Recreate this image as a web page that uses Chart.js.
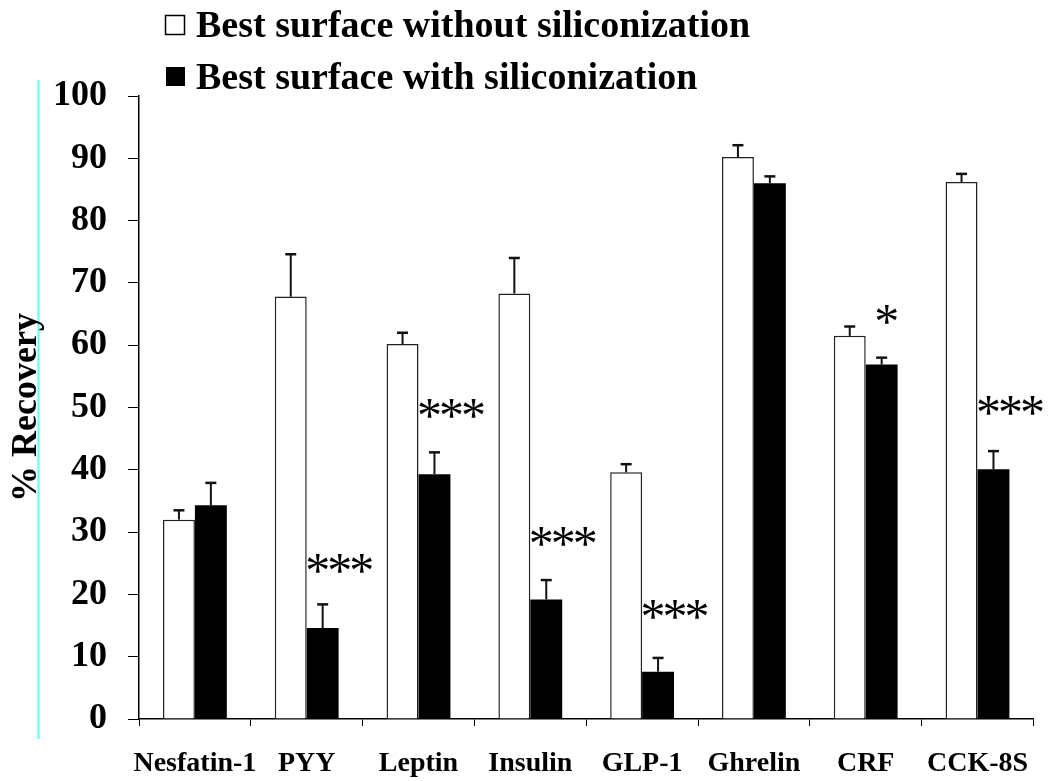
<!DOCTYPE html>
<html><head><meta charset="utf-8">
<script src="https://cdn.jsdelivr.net/npm/chart.js@4.4.0/dist/chart.umd.min.js"></script>
<style>html,body{margin:0;padding:0;background:#fff;}#wrap{width:1050px;height:781px;}</style>
</head><body><div id="wrap"><canvas id="c" width="1050" height="781"></canvas></div>
<script>
const categories = ['Nesfatin-1', 'PYY', 'Leptin', 'Insulin', 'GLP-1', 'Ghrelin', 'CRF', 'CCK-8S'];
const seriesNames = ['Best surface without siliconization', 'Best surface with siliconization'];
const withoutSilicon = [32.0, 67.8, 60.2, 68.3, 39.6, 90.2, 61.5, 86.2];
const withoutSiliconErr = [1.5, 6.8, 1.8, 5.7, 1.3, 1.9, 1.5, 1.3];
const withSilicon = [34.3, 14.6, 39.3, 19.2, 7.6, 86.0, 56.9, 40.1];
const withSiliconErr = [3.6, 3.8, 3.5, 3.1, 2.2, 1.1, 1.1, 2.9];
const significance = ['', '***', '***', '***', '***', '', '*', '***'];
const significanceLevel = [null, 25.0, 49.9, 29.4, 17.7, null, 65.0, 50.4];
const yTickMin = 0, yTickMax = 100, yTickStep = 10;
const yTitle = '% Recovery';

const FONT = '"Liberation Serif", "Times New Roman", serif';

const backgroundLine = {
  id: 'backgroundLine',
  beforeDraw(chart) {
    const ctx = chart.ctx;
    ctx.save();
    ctx.strokeStyle = '#5ff';
    ctx.lineWidth = 2;
    ctx.beginPath();
    ctx.moveTo(38.5, 80);
    ctx.lineTo(38.5, 739);
    ctx.stroke();
    ctx.restore();
  }
};

const errorBars = {
  id: 'errorBars',
  afterDatasetsDraw(chart) {
    const ctx = chart.ctx;
    const yScale = chart.scales.y;
    chart.data.datasets.forEach((ds, di) => {
      const meta = chart.getDatasetMeta(di);
      meta.data.forEach((bar, i) => {
        const top = yScale.getPixelForValue(ds.data[i] + ds.errors[i]);
        ctx.save();
        ctx.strokeStyle = '#111';
        ctx.lineWidth = 2;
        ctx.beginPath();
        ctx.moveTo(bar.x, bar.y);
        ctx.lineTo(bar.x, top);
        ctx.stroke();
        ctx.lineWidth = 2.5;
        ctx.beginPath();
        ctx.moveTo(bar.x - 5.5, top);
        ctx.lineTo(bar.x + 5.5, top);
        ctx.stroke();
        ctx.restore();
      });
    });
  }
};

const stars = {
  id: 'stars',
  afterDatasetsDraw(chart) {
    const ctx = chart.ctx;
    const xs = chart.scales.x, ys = chart.scales.y;
    const F = 50, step = 22;
    ctx.save();
    ctx.fillStyle = '#000';
    ctx.font = F + 'px ' + FONT;
    ctx.textAlign = 'center';
    ctx.textBaseline = 'alphabetic';
    significance.forEach((s, i) => {
      if (!s) return;
      const cx = xs.getPixelForValue(i) + (s.length === 1 ? 21 : 33);
      const y = ys.getPixelForValue(significanceLevel[i]) + 0.48 * F;
      const n = s.length;
      for (let k = 0; k < n; k++) {
        ctx.fillText(s[k], cx + (k - (n - 1) / 2) * step, y);
      }
    });
    ctx.restore();
  }
};

const customLegend = {
  id: 'customLegend',
  afterDraw(chart) {
    const ctx = chart.ctx;
    ctx.save();
    ctx.lineWidth = 1.5;
    ctx.strokeStyle = '#000';
    ctx.fillStyle = '#fff';
    ctx.fillRect(165.5, 15.5, 19, 19);
    ctx.strokeRect(165.5, 15.5, 19, 19);
    ctx.fillStyle = '#000';
    ctx.fillRect(166, 67, 19, 19);
    ctx.font = 'bold 38px ' + FONT;
    ctx.textAlign = 'left';
    ctx.textBaseline = 'middle';
    ctx.fillText(seriesNames[0], 196, 27);
    ctx.fillText(seriesNames[1], 196, 79);
    ctx.restore();
  }
};

new Chart(document.getElementById('c'), {
  type: 'bar',
  data: {
    labels: categories,
    datasets: [
      { label: seriesNames[0], data: withoutSilicon, errors: withoutSiliconErr,
        backgroundColor: '#fff', borderColor: '#222', borderWidth: 1.5,
        categoryPercentage: 0.571, barPercentage: 1.0 },
      { label: seriesNames[1], data: withSilicon, errors: withSiliconErr,
        backgroundColor: '#000', borderColor: '#000', borderWidth: 0,
        categoryPercentage: 0.571, barPercentage: 1.0 }
    ]
  },
  options: {
    responsive: false,
    animation: false,
    devicePixelRatio: 1,
    layout: { padding: { top: 96, right: 15, left: 0, bottom: 0 } },
    plugins: { legend: { display: false }, tooltip: { enabled: false }, title: { display: false } },
    scales: {
      x: {
        grid: { display: true, drawOnChartArea: false, drawTicks: true, tickLength: 7, color: '#000', offset: true },
        border: { display: true, color: '#000', width: 1.5 },
        ticks: { color: '#000', font: { family: FONT, size: 28, weight: 'bold' }, padding: 21, maxRotation: 0, autoSkip: false },
        afterFit(s) { s.height = 62; }
      },
      y: {
        min: yTickMin, max: yTickMax,
        grid: { display: true, drawOnChartArea: false, drawTicks: true, tickLength: 11, color: '#000' },
        border: { display: true, color: '#000', width: 1.5 },
        ticks: { stepSize: yTickStep, color: '#000', font: { family: FONT, size: 36, weight: 'bold' }, padding: 21 },
        title: { display: true, text: yTitle, color: '#000', font: { family: FONT, size: 36, weight: 'bold' }, padding: { top: 5, bottom: 0 } },
        afterFit(s) { s.width = 139; }
      }
    }
  },
  plugins: [backgroundLine, errorBars, stars, customLegend]
});
</script></body></html>
